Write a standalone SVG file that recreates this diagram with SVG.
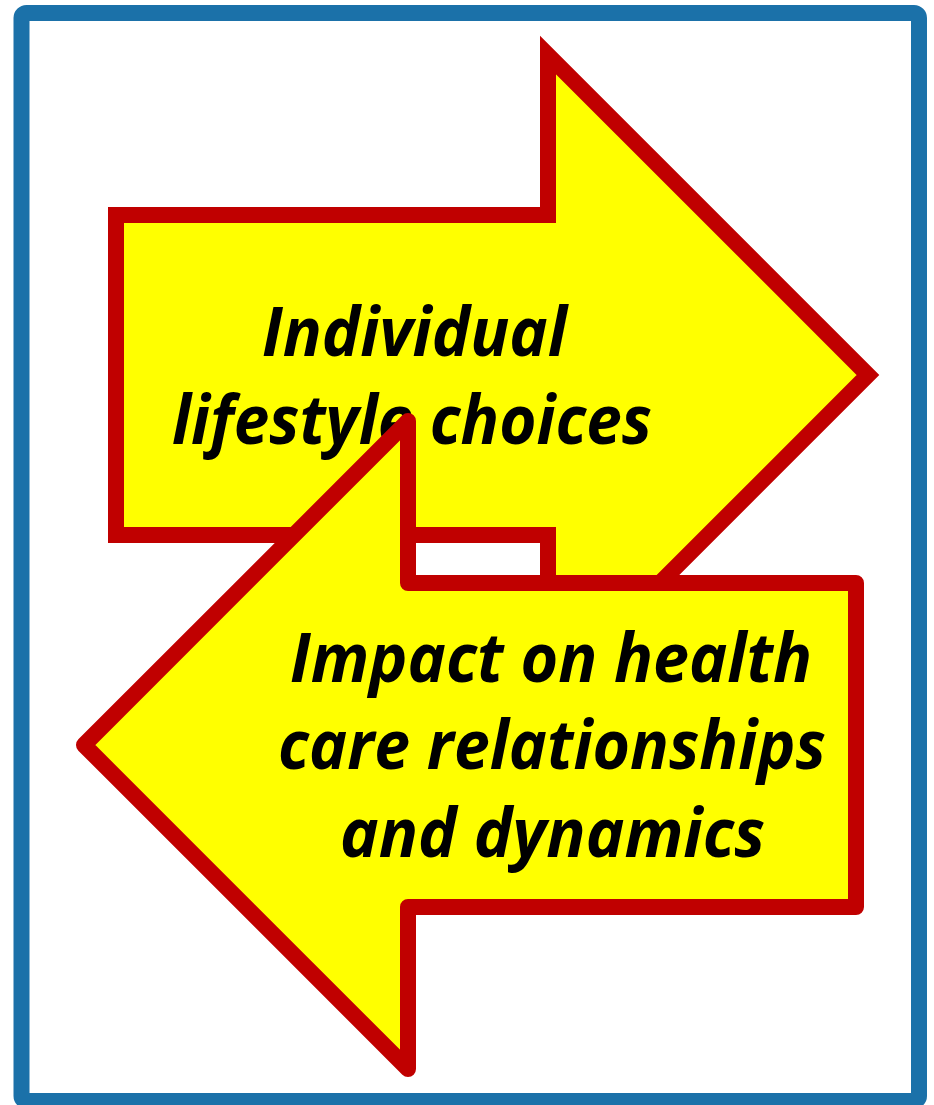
<svg xmlns="http://www.w3.org/2000/svg" width="934" height="1105" viewBox="0 0 934 1105">
<style>
.frame{fill:#ffffff;stroke:#1B71A9;stroke-width:16}
.arrow{fill:#FFFF00;stroke:#C00000;stroke-width:16}
.miter{stroke-linejoin:miter;stroke-miterlimit:10}
.round{stroke-linejoin:round}
.lbl{font-family:"Open Sans","Liberation Sans",sans-serif;font-weight:bold;font-style:italic;font-size:68px;fill:#000000}
</style>
<rect class="frame" x="21.5" y="13" width="897.5" height="1088" rx="5"/>
<g id="arrow-right">
<polygon class="arrow miter" points="116,215 548,215 548,55 868,375 548,695 548,535 116,535"/>
<text class="lbl" x="414.5" y="356" text-anchor="middle" textLength="305" lengthAdjust="spacingAndGlyphs">Individual</text>
<text class="lbl" x="412" y="444" text-anchor="middle" textLength="480" lengthAdjust="spacingAndGlyphs">lifestyle choices</text>
</g>
<g id="arrow-left">
<polygon class="arrow round" points="84,745 408,421 408,583 856,583 856,907 408,907 408,1069"/>
<text class="lbl" x="551" y="682" text-anchor="middle" textLength="522" lengthAdjust="spacingAndGlyphs">Impact on health</text>
<text class="lbl" x="552" y="769" text-anchor="middle" textLength="548" lengthAdjust="spacingAndGlyphs">care relationships</text>
<text class="lbl" x="552.5" y="857" text-anchor="middle" textLength="425" lengthAdjust="spacingAndGlyphs">and dynamics</text>
</g>
<g id="connectors"/>
</svg>
